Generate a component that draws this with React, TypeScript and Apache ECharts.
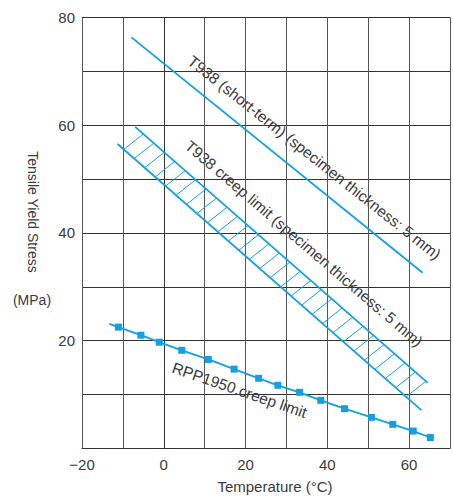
import React, { useEffect, useRef } from "react";
import * as echarts from "echarts";

// ---- data ----
const SHORT_TERM_T = [-7.9, 63.3];
const SHORT_TERM_S = [76.3, 32.6];

const CREEP_UPPER_T = [-7.0, 64.5];
const CREEP_UPPER_S = [59.7, 12.2];
const CREEP_LOWER_T = [-11.3, 63.0];
const CREEP_LOWER_S = [56.5, 7.1];

const RPP_LINE_START = [-13.3, 23.1];
const RPP_T = [-11.1, -5.6, -1.1, 4.4, 10.9, 17.2, 23.2, 27.9, 33.2, 38.4, 44.2, 50.8, 56.0, 61.0, 65.2];
const RPP_S = [22.5, 21.0, 19.7, 18.2, 16.5, 14.7, 13.0, 11.7, 10.4, 8.9, 7.35, 5.75, 4.45, 3.2, 2.0];

const X_TICK_LABELS = [-20, 0, 20, 40, 60];
const Y_TICK_LABELS = [20, 40, 60, 80];

// hatch texture for the creep band
const HATCH_FIRST = -9.8;
const HATCH_LAST = 59.3;
const HATCH_COUNT = 28;
const HATCH_RUN = 4.8;

const BLUE = "#12a0e3";
const TEXT = "#3a3a3a";
const FONT = "Liberation Sans";

function interp(ts: number[], ss: number[], t: number) {
  const k = (t - ts[0]) / (ts[1] - ts[0]);
  return ss[0] + k * (ss[1] - ss[0]);
}

export default function App() {
  const ref = useRef<HTMLDivElement>(null);
  useEffect(() => {
    if (!ref.current) return;
    const chart = echarts.init(ref.current, null, { renderer: "svg" });
    const hatchStarts: number[][] = [];
    for (let i = 0; i < HATCH_COUNT; i++) {
      hatchStarts.push([HATCH_FIRST + (i * (HATCH_LAST - HATCH_FIRST)) / (HATCH_COUNT - 1), 0]);
    }
    const rppData: any[] = [{ value: RPP_LINE_START, symbol: "none" }];
    RPP_T.forEach((t, i) => rppData.push([t, RPP_S[i]]));

    const label = (text: string, x: number, y: number, deg: number, size: number) => ({
      type: "text",
      x,
      y,
      rotation: (-deg * Math.PI) / 180,
      style: {
        text,
        fill: TEXT,
        font: `${size}px "${FONT}"`,
        align: "center",
        verticalAlign: "middle",
      },
    });

    chart.setOption({
      animation: false,
      grid: { left: 82, top: 17.5, bottom: 47.7, right: -7 },
      xAxis: {
        type: "value",
        min: -20,
        max: 70,
        interval: 10,
        axisLine: { show: true, lineStyle: { color: "#333", width: 1 } },
        axisTick: { show: false },
        splitLine: { show: true, lineStyle: { color: "#555", width: 1 } },
        axisLabel: {
          margin: 9,
          color: TEXT,
          fontSize: 15,
          fontFamily: FONT,
          formatter: (v: number) =>
            X_TICK_LABELS.includes(v) ? String(v).replace("-", "\u2212") : "",
        },
      },
      yAxis: {
        type: "value",
        min: 0,
        max: 80,
        interval: 10,
        axisLine: { show: true, lineStyle: { color: "#333", width: 1 } },
        axisTick: { show: false },
        splitLine: { show: true, lineStyle: { color: "#333", width: 1 } },
        axisLabel: {
          margin: 7,
          color: TEXT,
          fontSize: 15,
          fontFamily: FONT,
          formatter: (v: number) => (Y_TICK_LABELS.includes(v) ? String(v) : ""),
        },
      },
      series: [
        {
          type: "line",
          data: SHORT_TERM_T.map((t, i) => [t, SHORT_TERM_S[i]]),
          symbol: "none",
          lineStyle: { color: BLUE, width: 1.8 },
        },
        {
          type: "line",
          data: CREEP_UPPER_T.map((t, i) => [t, CREEP_UPPER_S[i]]),
          symbol: "none",
          lineStyle: { color: BLUE, width: 1.8 },
        },
        {
          type: "line",
          data: CREEP_LOWER_T.map((t, i) => [t, CREEP_LOWER_S[i]]),
          symbol: "none",
          lineStyle: { color: BLUE, width: 1.8 },
        },
        {
          type: "custom",
          data: hatchStarts,
          renderItem: (params: any, api: any) => {
            const tl = api.value(0);
            const tu = tl + HATCH_RUN;
            const p1 = api.coord([tl, interp(CREEP_LOWER_T, CREEP_LOWER_S, tl)]);
            const p2 = api.coord([tu, interp(CREEP_UPPER_T, CREEP_UPPER_S, tu)]);
            return {
              type: "line",
              shape: { x1: p1[0], y1: p1[1], x2: p2[0], y2: p2[1] },
              style: { stroke: BLUE, lineWidth: 1 },
            };
          },
        },
        {
          type: "line",
          data: rppData,
          symbol: "rect",
          symbolSize: 7,
          itemStyle: { color: BLUE },
          lineStyle: { color: BLUE, width: 1.8 },
        },
      ],
      graphic: [
        label("T938 (short-term) (specimen thickness: 5 mm)", 314.5, 157.5, 38.4, 15.5),
        label("T938 creep limit (specimen thickness: 5 mm)", 304, 243.5, 40.6, 15.5),
        label("RPP1950.creep limit", 239.5, 390, 19, 15.5),
        label("Tensile Yield Stress", 33, 212, 90, 14),
        label("(MPa)", 32, 300, 0, 14),
        label("Temperature (\u00b0C)", 275, 486, 0, 15),
      ],
    });
    return () => chart.dispose();
  }, []);
  return (
    <div
      ref={ref}
      style={{ position: "absolute", left: 0, top: 0, width: 453, height: 496 }}
    />
  );
}
